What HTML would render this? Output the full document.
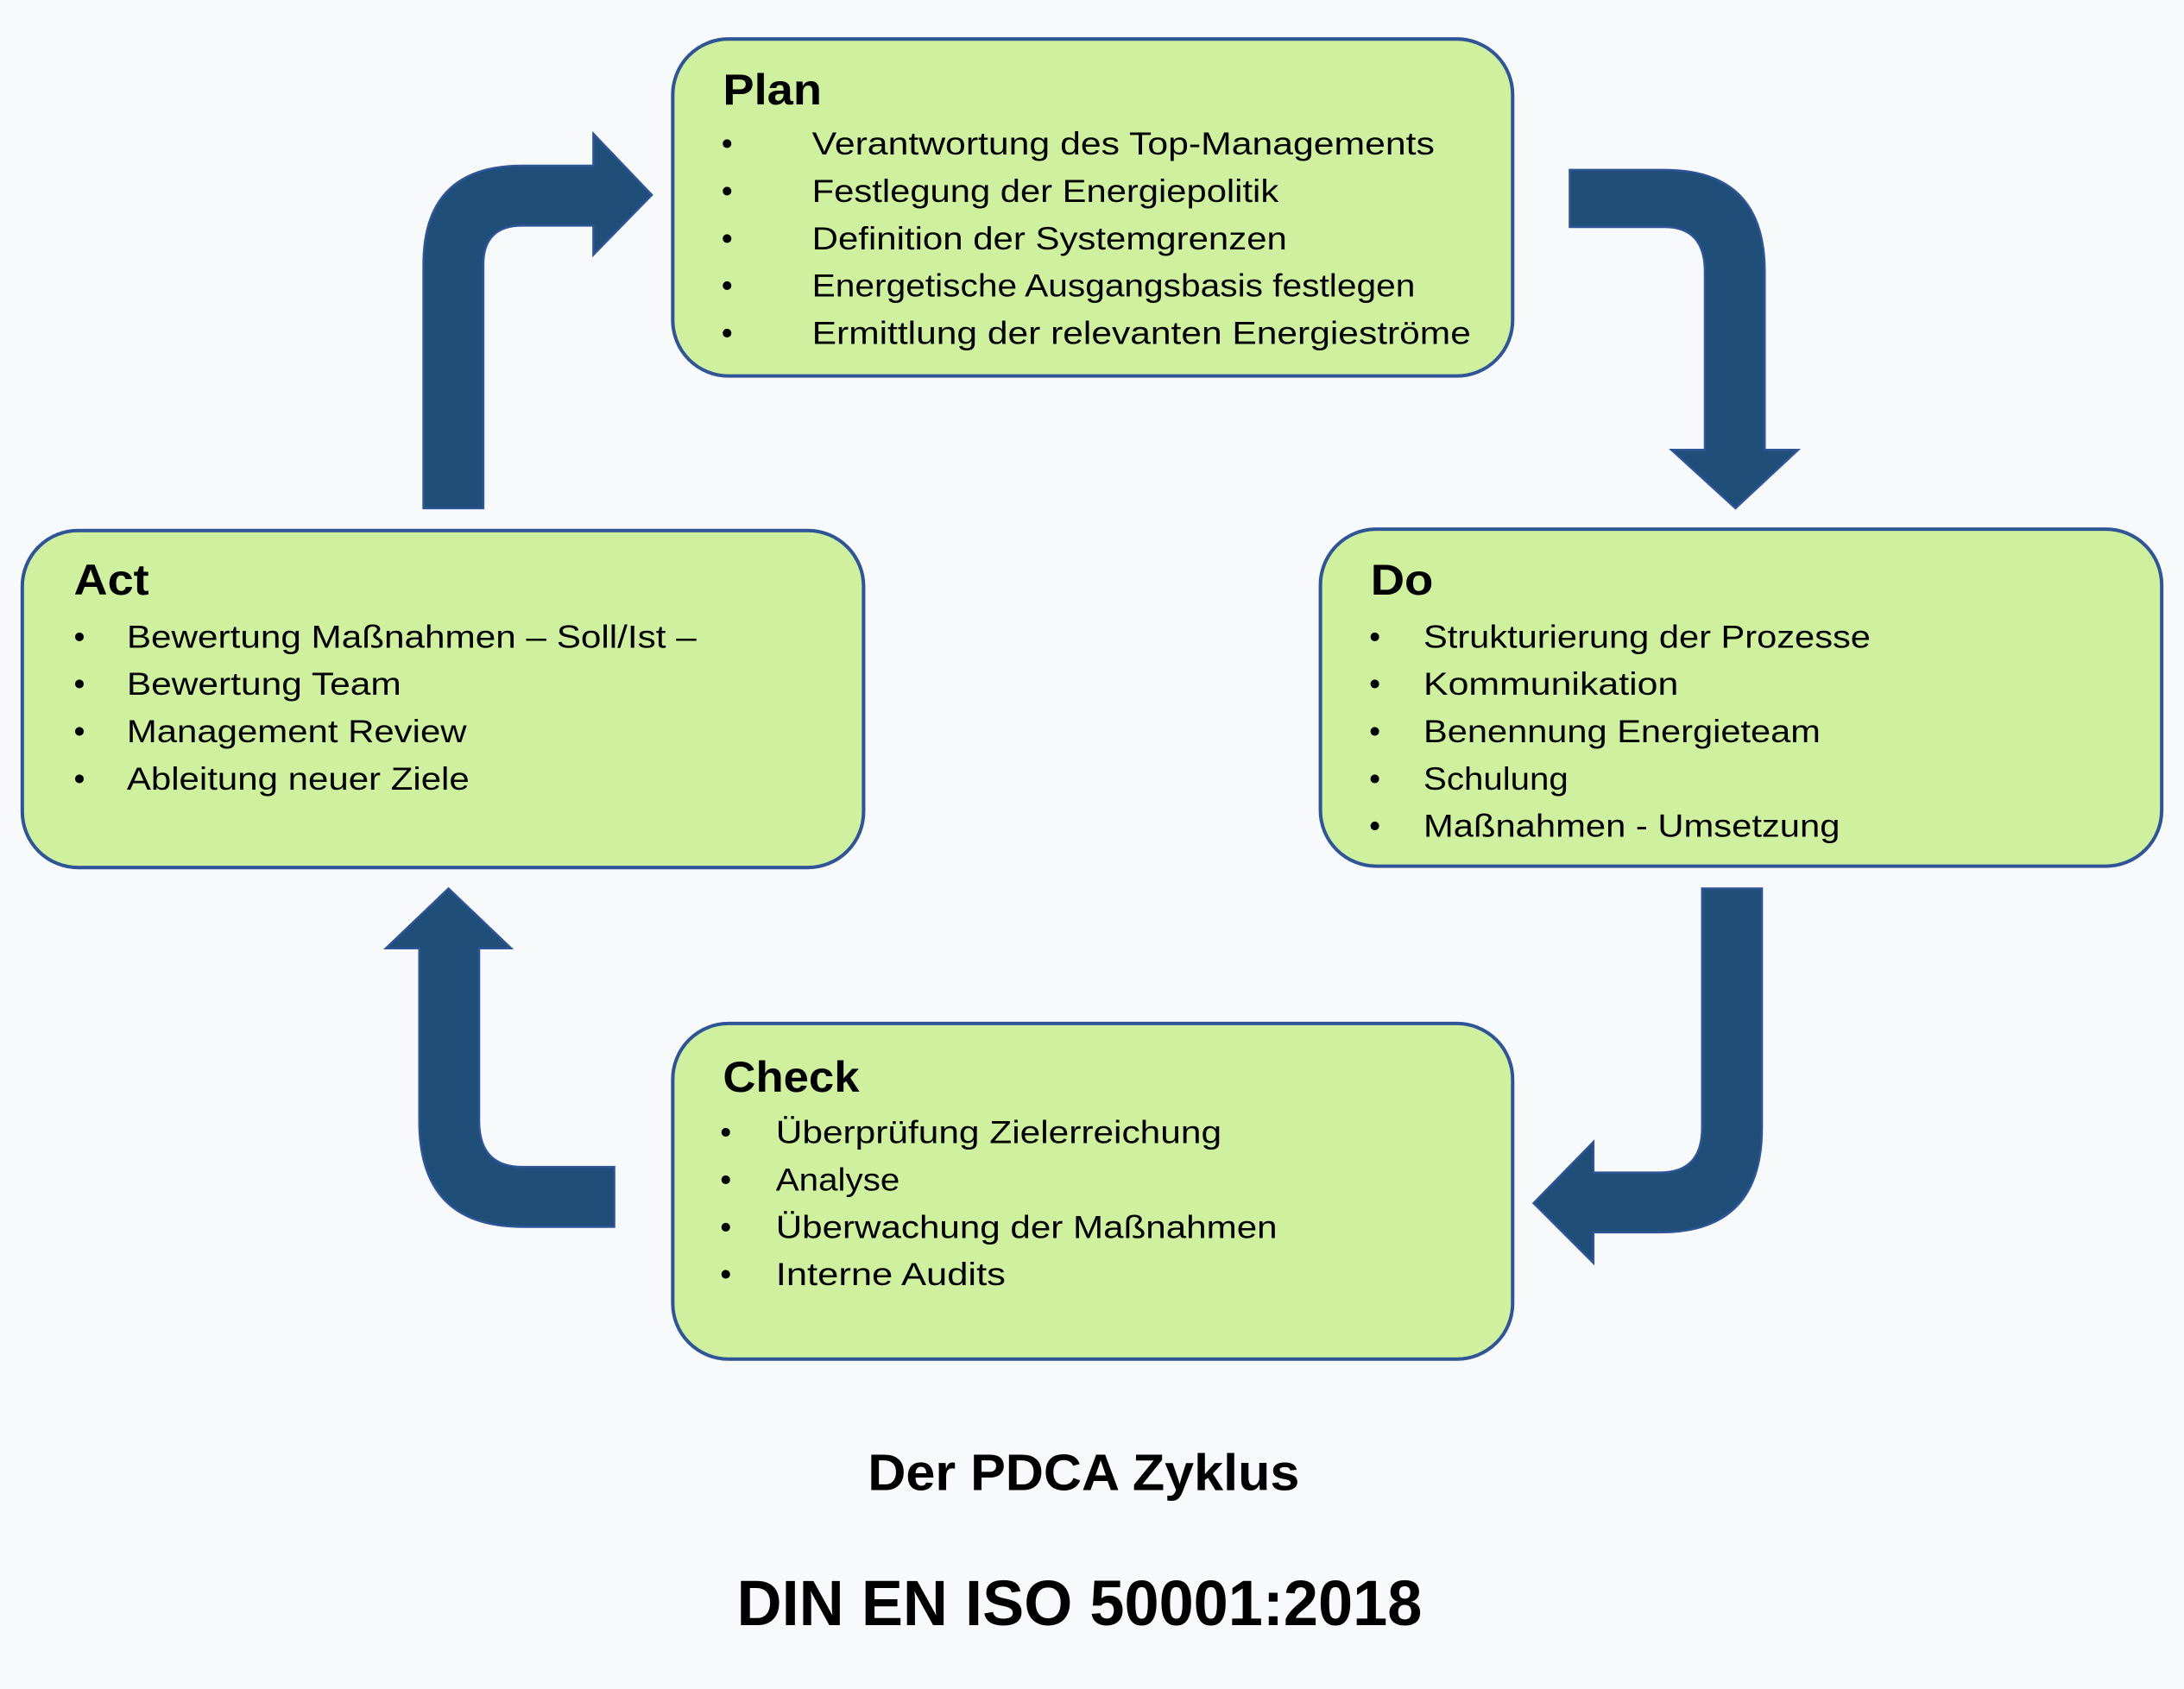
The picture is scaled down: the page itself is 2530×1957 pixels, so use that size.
<!DOCTYPE html>
<html><head><meta charset="utf-8"><style>
html,body{margin:0;padding:0;background:#f8f9fb;}
svg{display:block;}
text{font-family:"Liberation Sans",sans-serif;fill:#000;}
.t{font-weight:bold;font-size:31px;}
.b{font-size:23px;}
</style></head><body>
<svg width="2530" height="1957" viewBox="0 0 1568 1212.9" xmlns="http://www.w3.org/2000/svg">
<rect width="1568" height="1213" fill="#f8f9fb"/>
<g fill="#cff09e" stroke="#2f5597" stroke-width="2.5">
<rect x="483" y="28" width="603" height="242" rx="40"/>
<rect x="16" y="381" width="604" height="242" rx="40"/>
<rect x="948" y="380" width="604" height="242" rx="40"/>
<rect x="483" y="735" width="603" height="241" rx="40"/>
</g>
<g fill="#1f4e79" stroke="#2f5597" stroke-width="1.5">
<path d="M304,365 L304,190 Q304,119 375,119 L426,119 L426,96 L468,140 L426,183 L426,162 L375,162 Q347,162 347,190 L347,365 Z"/>
<path d="M1127,122 L1195,122 Q1267,122 1267,195 L1267,323 L1291,323 L1246,365 L1200,323 L1224,323 L1224,195 Q1224,163 1195,163 L1127,163 Z"/>
<path d="M1222,638 L1265,638 L1265,810 Q1265,885 1192,885 L1144,885 L1144,907 L1101,864 L1144,820 L1144,842 L1192,842 Q1222,842 1222,810 Z"/>
<path d="M441,838 L441,881 L375,881 Q301,881 301,805 L301,681 L277,681 L322,638 L367,681 L344,681 L344,805 Q344,838 375,838 Z"/>
</g>
<text class="t" x="519" y="75" textLength="71" lengthAdjust="spacingAndGlyphs">Plan</text>
<g class="b">
<text x="518" y="111">•</text><text x="583" y="111" textLength="447" lengthAdjust="spacingAndGlyphs">Verantwortung des Top-Managements</text>
<text x="518" y="145">•</text><text x="583" y="145" textLength="335" lengthAdjust="spacingAndGlyphs">Festlegung der Energiepolitik</text>
<text x="518" y="179">•</text><text x="583" y="179" textLength="341" lengthAdjust="spacingAndGlyphs">Definition der Systemgrenzen</text>
<text x="518" y="213">•</text><text x="583" y="213" textLength="433" lengthAdjust="spacingAndGlyphs">Energetische Ausgangsbasis festlegen</text>
<text x="518" y="247">•</text><text x="583" y="247" textLength="473" lengthAdjust="spacingAndGlyphs">Ermittlung der relevanten Energieströme</text>
</g>
<text class="t" x="53" y="427" textLength="54" lengthAdjust="spacingAndGlyphs">Act</text>
<g class="b">
<text x="53" y="465">•</text><text x="91" y="465" textLength="409" lengthAdjust="spacingAndGlyphs">Bewertung Maßnahmen – Soll/Ist –</text>
<text x="53" y="499">•</text><text x="91" y="499" textLength="197" lengthAdjust="spacingAndGlyphs">Bewertung Team</text>
<text x="53" y="533">•</text><text x="91" y="533" textLength="244" lengthAdjust="spacingAndGlyphs">Management Review</text>
<text x="53" y="567">•</text><text x="91" y="567" textLength="246" lengthAdjust="spacingAndGlyphs">Ableitung neuer Ziele</text>
</g>
<text class="t" x="984" y="427" textLength="45" lengthAdjust="spacingAndGlyphs">Do</text>
<g class="b">
<text x="983" y="465">•</text><text x="1022" y="465" textLength="321" lengthAdjust="spacingAndGlyphs">Strukturierung der Prozesse</text>
<text x="983" y="499">•</text><text x="1022" y="499" textLength="183" lengthAdjust="spacingAndGlyphs">Kommunikation</text>
<text x="983" y="533">•</text><text x="1022" y="533" textLength="285" lengthAdjust="spacingAndGlyphs">Benennung Energieteam</text>
<text x="983" y="567">•</text><text x="1022" y="567" textLength="104" lengthAdjust="spacingAndGlyphs">Schulung</text>
<text x="983" y="601">•</text><text x="1022" y="601" textLength="299" lengthAdjust="spacingAndGlyphs">Maßnahmen - Umsetzung</text>
</g>
<text class="t" x="519" y="784" textLength="98" lengthAdjust="spacingAndGlyphs">Check</text>
<g class="b">
<text x="517" y="821">•</text><text x="557" y="821" textLength="320" lengthAdjust="spacingAndGlyphs">Überprüfung Zielerreichung</text>
<text x="517" y="855">•</text><text x="557" y="855" textLength="89" lengthAdjust="spacingAndGlyphs">Analyse</text>
<text x="517" y="889">•</text><text x="557" y="889" textLength="360" lengthAdjust="spacingAndGlyphs">Überwachung der Maßnahmen</text>
<text x="517" y="923">•</text><text x="557" y="923" textLength="165" lengthAdjust="spacingAndGlyphs">Interne Audits</text>
</g>
<text x="623" y="1070" font-weight="bold" font-size="37" textLength="310" lengthAdjust="spacingAndGlyphs">Der PDCA Zyklus</text>
<text x="529" y="1167" font-weight="bold" font-size="46" textLength="492" lengthAdjust="spacingAndGlyphs">DIN EN ISO 50001:2018</text>
</svg>
</body></html>
